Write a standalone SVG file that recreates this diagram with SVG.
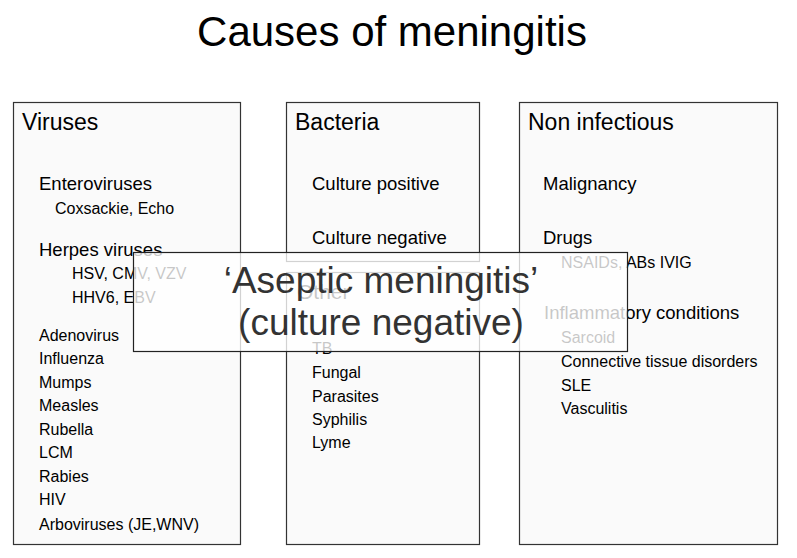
<svg xmlns="http://www.w3.org/2000/svg" width="797" height="558" viewBox="0 0 797 558">
<style>
text{font-family:"Liberation Sans",Arial,Helvetica,sans-serif;fill:#000}
.title{font-size:42px}
.h{font-size:23px}
.s{font-size:18.5px}
.i{font-size:16px}
.box{fill:#fafafa;stroke:#333;stroke-width:1.2}
.ov{fill:#fff;fill-opacity:0.78;stroke:#222;stroke-width:1.2}
.ovt{font-size:37px;fill:#333;text-anchor:middle}
</style>
<rect width="797" height="558" fill="#fff"/>
<text class="title" x="392" y="46" text-anchor="middle">Causes of meningitis</text>
<g id="viruses">
<rect class="box" x="13.5" y="102.5" width="227" height="442"/>
<text class="h" x="22" y="130">Viruses</text>
<text class="s" x="39" y="190">Enteroviruses</text>
<text class="i" x="55" y="214">Coxsackie, Echo</text>
<text class="s" x="39" y="256">Herpes viruses</text>
<text class="i" x="72" y="279">HSV, CMV, VZV</text>
<text class="i" x="72" y="303">HHV6, EBV</text>
<text class="i" x="39" y="341">Adenovirus</text>
<text class="i" x="39" y="364">Influenza</text>
<text class="i" x="39" y="388">Mumps</text>
<text class="i" x="39" y="411">Measles</text>
<text class="i" x="39" y="435">Rubella</text>
<text class="i" x="39" y="458">LCM</text>
<text class="i" x="39" y="482">Rabies</text>
<text class="i" x="39" y="505">HIV</text>
<text class="i" x="39" y="530">Arboviruses (JE,WNV)</text>
</g>
<g id="bacteria">
<rect class="box" x="286.5" y="102.5" width="193" height="159"/>
<text class="h" x="295" y="130">Bacteria</text>
<text class="s" x="312" y="190">Culture positive</text>
<text class="s" x="312" y="244">Culture negative</text>
</g>
<g id="other">
<rect class="box" x="286.5" y="272.5" width="193" height="272"/>
<text class="h" x="297" y="299" style="font-size:21px">Other</text>
<text class="i" x="312" y="354">TB</text>
<text class="i" x="312" y="378">Fungal</text>
<text class="i" x="312" y="402">Parasites</text>
<text class="i" x="312" y="425">Syphilis</text>
<text class="i" x="312" y="448">Lyme</text>
</g>
<g id="noninfectious">
<rect class="box" x="519.5" y="102.5" width="258" height="442"/>
<text class="h" x="528" y="130">Non infectious</text>
<text class="s" x="543" y="190">Malignancy</text>
<text class="s" x="543" y="244">Drugs</text>
<text class="i" x="561" y="268">NSAIDs, ABs IVIG</text>
<text class="s" x="544" y="319">Inflammatory conditions</text>
<text class="i" x="561" y="343">Sarcoid</text>
<text class="i" x="561" y="367">Connective tissue disorders</text>
<text class="i" x="561" y="391">SLE</text>
<text class="i" x="561" y="414">Vasculitis</text>
</g>
<g id="connectors"></g>
<g id="aseptic">
<rect class="ov" x="133.5" y="252.5" width="494" height="99"/>
<text class="ovt" x="381" y="293">‘Aseptic meningitis’</text>
<text class="ovt" x="381" y="335">(culture negative)</text>
</g>
</svg>
